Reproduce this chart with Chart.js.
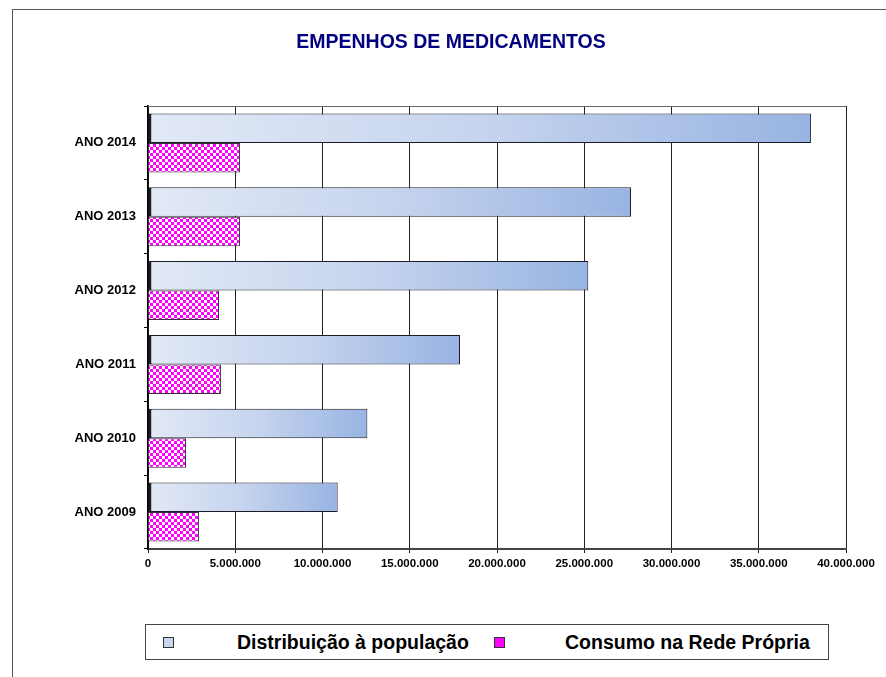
<!DOCTYPE html>
<html lang="pt-BR">
<head>
    <meta charset="UTF-8">
    <title>Empenhos de Medicamentos</title>
    <script src="https://cdn.jsdelivr.net/npm/chart.js"></script>
    <style>
        * { margin: 0; padding: 0; box-sizing: border-box; }

        body {
            width: 886px;
            height: 677px;
            background: #fff;
            position: relative;
            overflow: hidden;
            font-family: "Liberation Sans", Arial, sans-serif;
        }

        .frame {
            position: absolute;
            left: 12px;
            top: 9px;
            width: 900px;
            height: 700px;
            border-top: 1px solid #555;
            border-left: 1px solid #555;
        }

        #chart {
            position: absolute;
            left: 0;
            top: 0;
        }

        .legend {
            position: absolute;
            left: 145px;
            top: 624px;
            width: 684px;
            height: 36px;
            border: 1px solid #444;
            background: #fff;
        }

        .legend .item {
            position: absolute;
            top: 0;
            height: 34px;
            line-height: 34px;
            font-weight: bold;
            font-size: 19.5px;
            color: #000;
            white-space: nowrap;
        }

        .legend .box {
            position: absolute;
            top: 12px;
            width: 11px;
            height: 11px;
            border: 1px solid #333;
        }
    </style>
</head>
<body>
    <div class="frame"></div>
    <canvas id="chart" width="886" height="677"></canvas>
    <div class="legend" id="legend"></div>

    <script>
        // dados
        const anos = ['ANO 2009', 'ANO 2010', 'ANO 2011', 'ANO 2012', 'ANO 2013', 'ANO 2014'];
        const distribuicao = [10870000, 12570000, 17880000, 25230000, 27680000, 38000000];
        const consumo = [2920000, 2180000, 4180000, 4070000, 5270000, 5270000];
        const xTicks = [0, 5000000, 10000000, 15000000, 20000000, 25000000, 30000000, 35000000, 40000000];

        function formatBR(v) {
            return String(v).replace(/\B(?=(\d{3})+(?!\d))/g, '.');
        }

        // padrão xadrez magenta/branco
        function checkerPattern() {
            const c = document.createElement('canvas');
            c.width = 6;
            c.height = 6;
            const g = c.getContext('2d');
            g.fillStyle = '#ff00ff';
            g.fillRect(0, 0, 6, 6);
            g.fillStyle = '#ffffff';
            g.fillRect(0, 0, 3, 3);
            g.fillRect(3, 3, 3, 3);
            return g.createPattern(c, 'repeat');
        }

        function blueGradient(ctx) {
            const chart = ctx.chart;
            const area = chart.chartArea;
            if (!area || ctx.type !== 'data') return '#c4d3ee';
            const x0 = chart.scales.x.getPixelForValue(0);
            const x1 = chart.scales.x.getPixelForValue(ctx.raw);
            const g = chart.ctx.createLinearGradient(x0, 0, x1, 0);
            g.addColorStop(0, '#e2e9f6');
            g.addColorStop(0.5, '#c6d4ee');
            g.addColorStop(1, '#98b4e2');
            return g;
        }

        const plotFrame = {
            id: 'plotFrame',
            beforeDatasetsDraw(chart) {
                const { ctx, chartArea } = chart;
                ctx.save();
                ctx.strokeStyle = '#666';
                ctx.lineWidth = 1;
                ctx.beginPath();
                ctx.moveTo(chartArea.left, chartArea.top + 0.5);
                ctx.lineTo(chartArea.right, chartArea.top + 0.5);
                ctx.stroke();
                ctx.restore();
            }
        };

        const pattern = checkerPattern();

        const chart = new Chart(document.getElementById('chart'), {
            type: 'bar',
            data: {
                labels: anos,
                datasets: [{
                    label: 'Distribuição à população',
                    data: distribuicao,
                    backgroundColor: blueGradient,
                    borderColor: '#1c1c28',
                    borderWidth: { top: 1, right: 1, bottom: 1, left: 3 },
                    borderSkipped: false,
                    categoryPercentage: 0.8,
                    barPercentage: 1.0
                }, {
                    label: 'Consumo na Rede Própria',
                    data: consumo,
                    backgroundColor: pattern,
                    borderColor: '#333',
                    borderWidth: 1,
                    categoryPercentage: 0.8,
                    barPercentage: 1.0
                }]
            },
            options: {
                indexAxis: 'y',
                responsive: false,
                animation: false,
                layout: {
                    padding: { left: 56, right: 40, top: 0, bottom: 0 }
                },
                plugins: {
                    legend: { display: false },
                    tooltip: { enabled: false },
                    title: {
                        display: true,
                        text: 'EMPENHOS DE MEDICAMENTOS',
                        color: '#000080',
                        font: { family: 'Liberation Sans, Arial', size: 19.5, weight: 'bold', lineHeight: 1.2 },
                        padding: { top: 31, bottom: 51.6 }
                    }
                },
                scales: {
                    x: {
                        min: 0,
                        max: 40000000,
                        afterBuildTicks(scale) {
                            scale.ticks = xTicks.map(v => ({ value: v }));
                        },
                        afterFit(scale) {
                            scale.height = 128;
                        },
                        grid: {
                            color: '#222',
                            lineWidth: 1,
                            tickLength: 4
                        },
                        border: { color: '#444', width: 2 },
                        ticks: {
                            color: '#000',
                            padding: 4,
                            maxRotation: 0,
                            autoSkip: false,
                            font: { family: 'Liberation Sans, Arial', size: 11.5, weight: 'bold' },
                            callback: v => formatBR(v)
                        }
                    },
                    y: {
                        reverse: true,
                        afterFit(scale) {
                            scale.width = 92;
                        },
                        grid: {
                            drawOnChartArea: false,
                            offset: true,
                            color: '#000',
                            tickLength: 4
                        },
                        border: { color: '#000', width: 1.5 },
                        ticks: {
                            color: '#000',
                            padding: 8,
                            font: { family: 'Liberation Sans, Arial', size: 13, weight: 'bold' }
                        }
                    }
                }
            },
            plugins: [plotFrame]
        });

        // legenda no estilo da planilha
        const legendPos = [
            { box: 17, text: 91 },
            { box: 348, text: 419 }
        ];
        const legendFill = ['#c9d6ee', '#ff00ff'];
        const legend = document.getElementById('legend');
        chart.data.datasets.forEach((ds, i) => {
            const b = document.createElement('div');
            b.className = 'box';
            b.style.left = legendPos[i].box + 'px';
            b.style.background = legendFill[i];
            legend.appendChild(b);
            const t = document.createElement('div');
            t.className = 'item';
            t.style.left = legendPos[i].text + 'px';
            t.textContent = ds.label;
            legend.appendChild(t);
        });
    </script>
</body>
</html>
